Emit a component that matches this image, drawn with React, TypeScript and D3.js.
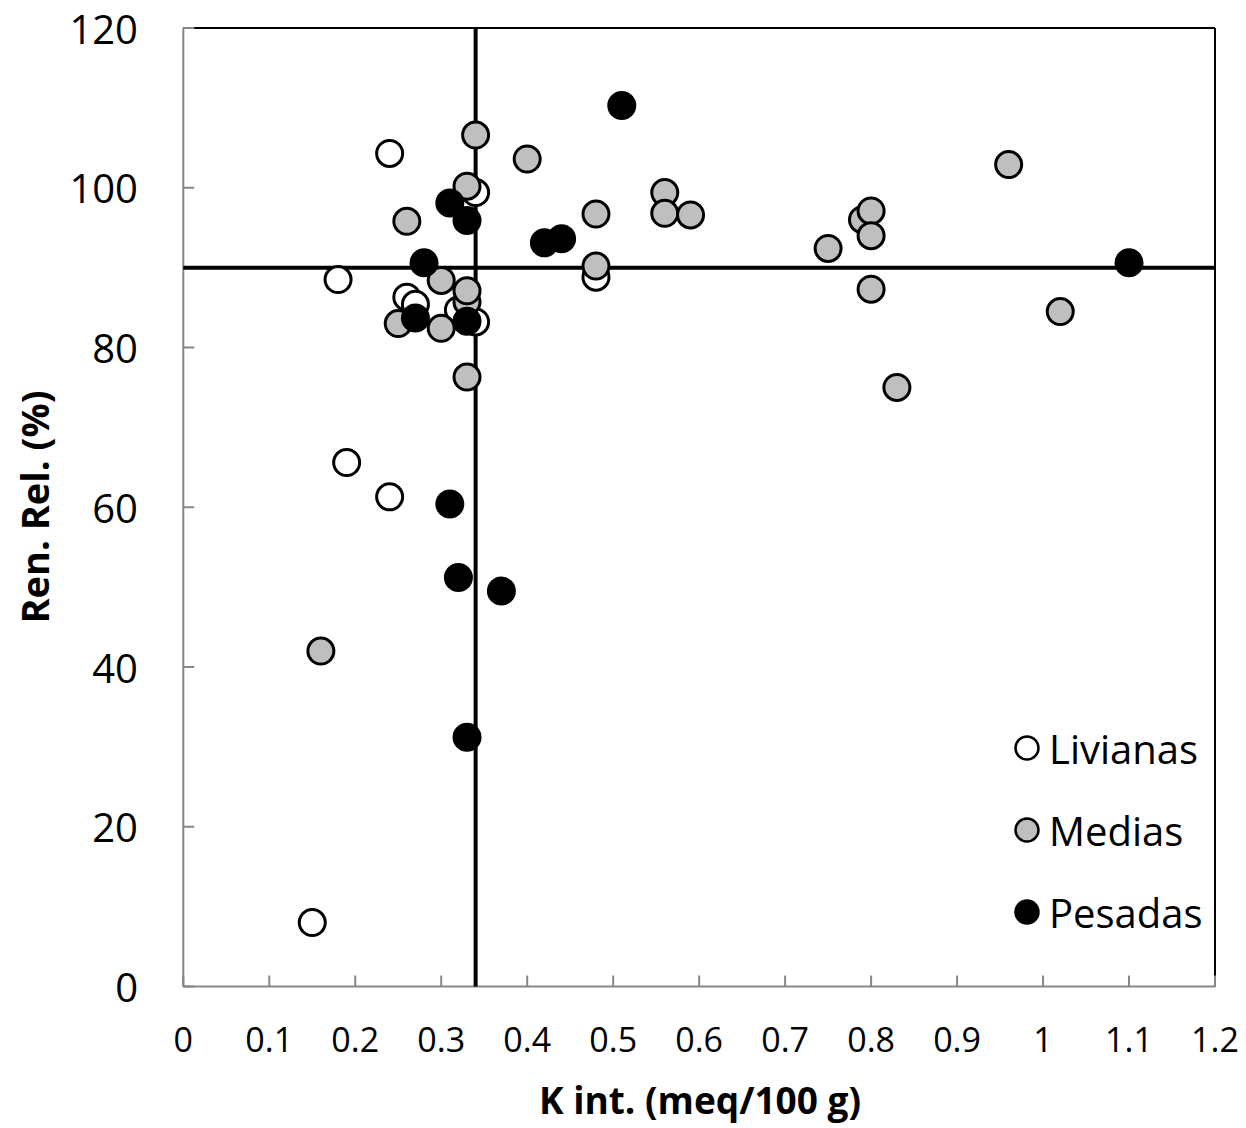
import React from "react";
import * as d3 from "d3";

type Pt = { x: number; y: number };

// K intercambiable (meq/100 g) vs rendimiento relativo (%), por textura de suelo
const livianas: Pt[] = [
  { x: 0.15, y: 8.0 },
  { x: 0.19, y: 65.6 },
  { x: 0.24, y: 61.3 },
  { x: 0.24, y: 104.3 },
  { x: 0.18, y: 88.5 },
  { x: 0.26, y: 86.3 },
  { x: 0.27, y: 85.4 },
  { x: 0.34, y: 99.4 },
  { x: 0.32, y: 84.7 },
  { x: 0.34, y: 83.2 },
  { x: 0.48, y: 88.8 },
];

const medias: Pt[] = [
  { x: 0.16, y: 42.0 },
  { x: 0.25, y: 83.0 },
  { x: 0.26, y: 95.8 },
  { x: 0.30, y: 88.4 },
  { x: 0.30, y: 82.4 },
  { x: 0.33, y: 85.7 },
  { x: 0.33, y: 87.1 },
  { x: 0.33, y: 76.3 },
  { x: 0.33, y: 100.2 },
  { x: 0.34, y: 106.6 },
  { x: 0.40, y: 103.6 },
  { x: 0.48, y: 96.7 },
  { x: 0.48, y: 90.2 },
  { x: 0.56, y: 99.4 },
  { x: 0.56, y: 96.8 },
  { x: 0.59, y: 96.6 },
  { x: 0.75, y: 92.4 },
  { x: 0.79, y: 96.0 },
  { x: 0.80, y: 97.1 },
  { x: 0.80, y: 94.0 },
  { x: 0.80, y: 87.3 },
  { x: 0.83, y: 75.0 },
  { x: 0.96, y: 102.9 },
  { x: 1.02, y: 84.5 },
];

const pesadas: Pt[] = [
  { x: 0.51, y: 110.3 },
  { x: 0.31, y: 98.1 },
  { x: 0.33, y: 95.9 },
  { x: 0.28, y: 90.6 },
  { x: 0.27, y: 83.7 },
  { x: 0.33, y: 83.3 },
  { x: 0.42, y: 93.1 },
  { x: 0.44, y: 93.6 },
  { x: 1.10, y: 90.6 },
  { x: 0.31, y: 60.4 },
  { x: 0.32, y: 51.2 },
  { x: 0.37, y: 49.5 },
  { x: 0.33, y: 31.2 },
];

const series = [
  { name: "Livianas", fill: "#ffffff", data: livianas },
  { name: "Medias", fill: "#bfbfbf", data: medias },
  { name: "Pesadas", fill: "#000000", data: pesadas },
];

// Umbrales críticos
const kCritico = 0.34;
const rendCritico = 90;

const xTicks = [0, 0.1, 0.2, 0.3, 0.4, 0.5, 0.6, 0.7, 0.8, 0.9, 1, 1.1, 1.2];
const yTicks = [0, 20, 40, 60, 80, 100, 120];

const FONT = "'Open Sans', 'Liberation Sans', sans-serif";

export default function App() {
  const W = 1246;
  const H = 1128;
  const left = 183.3;
  const right = 1215;
  const top = 28;
  const bottom = 986.5;

  const x = d3.scaleLinear().domain([0, 1.2]).range([left, right]);
  const y = d3.scaleLinear().domain([0, 120]).range([bottom, top]);

  const r = 13;

  return (
    <svg
      width={W}
      height={H}
      style={{ position: "absolute", left: 0, top: 0, background: "#fff" }}
      fontFamily={FONT}
    >
      {/* marco superior y derecho */}
      <line x1={left} x2={right} y1={top} y2={top} stroke="#000" strokeWidth={2} />
      <line x1={right} x2={right} y1={top} y2={bottom} stroke="#000" strokeWidth={2} />

      {/* ejes */}
      <line x1={left} x2={left} y1={top} y2={bottom} stroke="#878787" strokeWidth={2} />
      <line x1={left} x2={right} y1={bottom} y2={bottom} stroke="#878787" strokeWidth={2} />
      {yTicks.map((t) => (
        <g key={"y" + t}>
          <line x1={left} x2={left + 11} y1={y(t)} y2={y(t)} stroke="#878787" strokeWidth={2} />
          <text
            x={138}
            y={y(t)}
            textAnchor="end"
            dominantBaseline="central"
            fontSize={40}
            fill="#000"
          >
            {t}
          </text>
        </g>
      ))}
      {xTicks.map((t) => (
        <g key={"x" + t}>
          <line x1={x(t)} x2={x(t)} y1={bottom} y2={bottom - 11} stroke="#878787" strokeWidth={2} />
          <text
            x={x(t)}
            y={1039}
            textAnchor="middle"
            dominantBaseline="central"
            fontSize={34}
            fill="#000"
          >
            {t}
          </text>
        </g>
      ))}

      {/* umbrales */}
      <line x1={x(kCritico)} x2={x(kCritico)} y1={top} y2={bottom} stroke="#000" strokeWidth={4} />
      <line x1={left} x2={right} y1={y(rendCritico)} y2={y(rendCritico)} stroke="#000" strokeWidth={4} />

      {/* puntos */}
      {series.map((s) => (
        <g key={s.name}>
          {s.data.map((d, i) => (
            <circle
              key={i}
              cx={x(d.x)}
              cy={y(d.y)}
              r={r}
              fill={s.fill}
              stroke="#000"
              strokeWidth={3}
            />
          ))}
        </g>
      ))}

      {/* leyenda */}
      {series.map((s, i) => (
        <g key={"leg" + s.name} transform={`translate(1027, ${748 + i * 82})`}>
          <circle r={11.5} fill={s.fill} stroke="#000" strokeWidth={2.5} />
          <text x={22} y={0} dominantBaseline="central" fontSize={40} fill="#000">
            {s.name}
          </text>
        </g>
      ))}

      {/* títulos */}
      <text
        x={700}
        y={1099}
        textAnchor="middle"
        dominantBaseline="central"
        fontSize={37}
        fontWeight="bold"
        fill="#000"
      >
        K int. (meq/100 g)
      </text>
      <text
        transform={`translate(34, 507) rotate(-90)`}
        textAnchor="middle"
        dominantBaseline="central"
        fontSize={38}
        fontWeight="bold"
        fill="#000"
      >
        Ren. Rel. (%)
      </text>
    </svg>
  );
}
